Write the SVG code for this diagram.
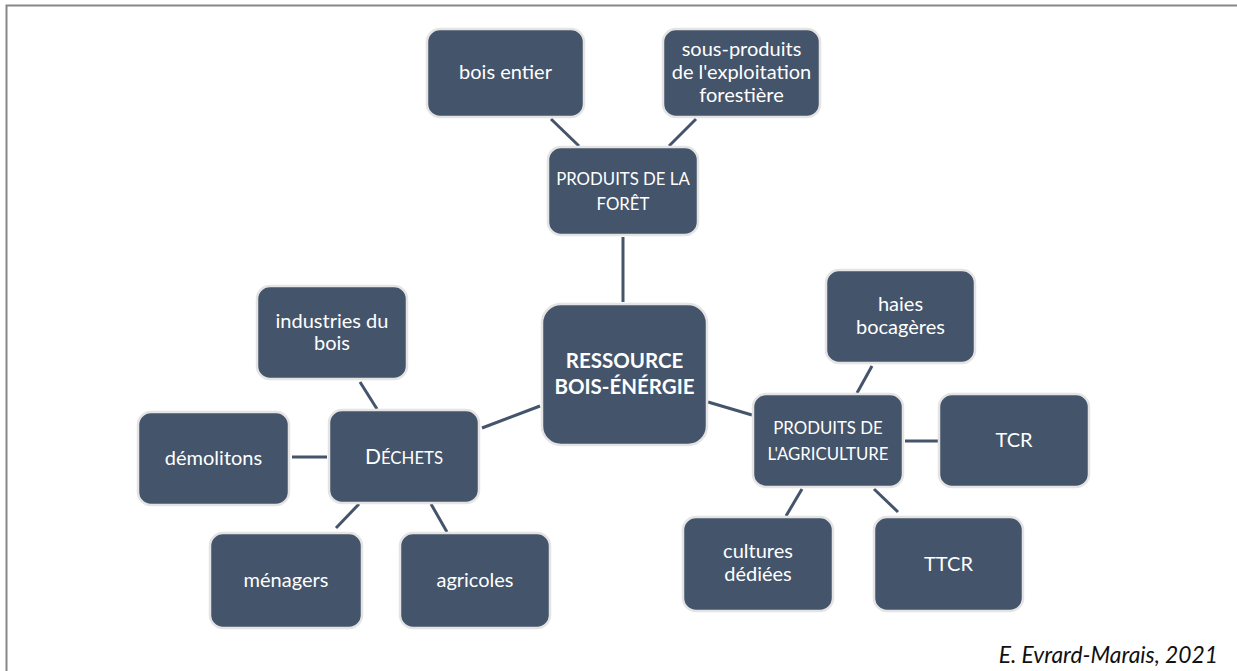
<svg xmlns="http://www.w3.org/2000/svg" width="1237" height="671" viewBox="0 0 1237 671">
<style>
.box{fill:#44546A;stroke:#E4E4E4;stroke-width:2.5}
.t{font-family:Lato,"Liberation Sans",sans-serif;font-size:20px;fill:#FFFFFF;text-anchor:middle}
.s{font-size:16.8px}
.b{font-weight:bold;font-size:20.5px}
.c{stroke:#44546A;stroke-width:3;fill:none}
</style>
<rect x="0" y="0" width="1237" height="671" fill="#FFFFFF"/>
<path d="M6.5 671 V5.5 H1237" fill="none" stroke="#878787" stroke-width="2"/>
<g id="connectors">
<line class="c" x1="551" y1="119" x2="579" y2="146"/>
<line class="c" x1="696" y1="119" x2="669" y2="146"/>
<line class="c" x1="623" y1="237" x2="623" y2="302"/>
<line class="c" x1="482" y1="428" x2="540" y2="406"/>
<line class="c" x1="360" y1="382" x2="377" y2="409"/>
<line class="c" x1="292" y1="457" x2="327" y2="457"/>
<line class="c" x1="359" y1="504" x2="336" y2="528"/>
<line class="c" x1="431" y1="504" x2="447" y2="532"/>
<line class="c" x1="708" y1="402" x2="752" y2="415"/>
<line class="c" x1="872" y1="366" x2="857" y2="393"/>
<line class="c" x1="905" y1="441" x2="938" y2="441"/>
<line class="c" x1="802" y1="489" x2="786" y2="516"/>
<line class="c" x1="874" y1="489" x2="898" y2="512"/>
</g>
<g id="bois-entier"><rect class="box" x="427" y="29" width="157" height="88" rx="13"/><text class="t" x="505.5" y="79">bois entier</text></g>
<g id="sous-produits"><rect class="box" x="663" y="29" width="157" height="88" rx="13"/><text class="t" x="741.5" y="56">sous-produits</text><text class="t" x="741.5" y="79">de l'exploitation</text><text class="t" x="741.5" y="102">forestière</text></g>
<g id="produits-foret"><rect class="box" x="548" y="147" width="150" height="88" rx="13"/><text class="t s" x="623" y="185">PRODUITS DE LA</text><text class="t s" x="623" y="210">FORÊT</text></g>
<g id="ressource"><rect class="box" x="542" y="304" width="165" height="141" rx="19"/><text class="t b" x="624.5" y="368">RESSOURCE</text><text class="t b" x="624.5" y="394">BOIS-ÉNÉRGIE</text></g>
<g id="industries"><rect class="box" x="257" y="286" width="150" height="93" rx="13"/><text class="t" x="332" y="328">industries du</text><text class="t" x="332" y="350">bois</text></g>
<g id="dechets"><rect class="box" x="329" y="410" width="150" height="93" rx="13"/><text class="t" x="404" y="464"><tspan font-size="21px">D</tspan><tspan class="s">ÉCHETS</tspan></text></g>
<g id="demolitons"><rect class="box" x="138" y="412" width="151" height="93" rx="13"/><text class="t" x="213.5" y="465">démolitons</text></g>
<g id="menagers"><rect class="box" x="210" y="533" width="152" height="95" rx="13"/><text class="t" x="286" y="587">ménagers</text></g>
<g id="agricoles"><rect class="box" x="400" y="533" width="150" height="95" rx="13"/><text class="t" x="475" y="587">agricoles</text></g>
<g id="produits-agriculture"><rect class="box" x="753" y="394" width="150" height="93" rx="13"/><text class="t s" x="828" y="434">PRODUITS DE</text><text class="t s" x="828" y="460">L'AGRICULTURE</text></g>
<g id="haies"><rect class="box" x="826" y="270" width="149" height="93" rx="13"/><text class="t" x="900.5" y="311">haies</text><text class="t" x="900.5" y="334">bocagères</text></g>
<g id="tcr"><rect class="box" x="939" y="394" width="150" height="93" rx="13"/><text class="t" x="1014" y="447">TCR</text></g>
<g id="cultures"><rect class="box" x="683" y="517" width="150" height="94" rx="13"/><text class="t" x="758" y="558">cultures</text><text class="t" x="758" y="581">dédiées</text></g>
<g id="ttcr"><rect class="box" x="874" y="517" width="149" height="94" rx="13"/><text class="t" x="948.5" y="571">TTCR</text></g>
<text x="1218" y="663" font-family="Lato,'Liberation Sans',sans-serif" font-size="22.8px" font-style="italic" fill="#111111" text-anchor="end">E. Evrard-Marais, 2021</text>
</svg>
